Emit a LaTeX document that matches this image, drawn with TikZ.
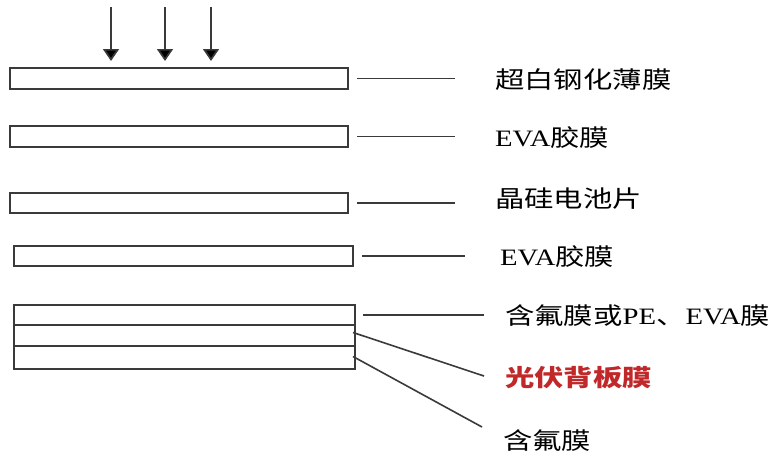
\documentclass[tikz,border=0pt]{standalone}
\usepackage{fontspec}
\setmainfont{Liberation Serif}[FakeStretch=1.22]
\newfontfamily\cjk{Noto Sans CJK SC}[FakeStretch=1.25]
\usetikzlibrary{arrows.meta,calc}
\definecolor{linegray}{HTML}{3A3A3A}
\definecolor{labred}{HTML}{C0282A}
\begin{document}
\begin{tikzpicture}[x=1pt,y=-1pt,
  layer/.style={draw=linegray,line width=1.5pt,fill=white,inner sep=0pt,outer sep=0pt,minimum width=#1},
  layer/.default=338pt,
  lab/.style={anchor=west,inner sep=0pt,font=\fontsize{23.5}{26}\selectfont},
  leader/.style={draw=linegray,line width=1.6pt},
  sun/.style={draw=linegray,line width=1.7pt,-{Triangle[width=16pt,length=12pt,fill=black]}}]
\useasboundingbox (0,0) rectangle (775,455);
% layers
\node[layer,minimum height=21pt] (r1) at (179,78.5) {};
\node[layer,minimum height=21pt] (r2) at (179,136.5) {};
\node[layer,minimum height=20pt] (r3) at (179,203) {};
\node[layer=339pt,minimum height=20pt] (r4) at (183.5,256) {};
\node[layer=341pt,minimum height=20pt] (s1) at (184.5,315) {};
\node[layer=341pt,minimum height=21pt] (s2) at (184.5,335.5) {};
\node[layer=341pt,minimum height=23pt] (s3) at (184.5,357.5) {};
% sunlight arrows
\coordinate (a1) at (111,7); \coordinate (b1) at (111,61);
\coordinate (a2) at (165,7); \coordinate (b2) at (165,61);
\coordinate (a3) at (211,7); \coordinate (b3) at (211,61);
\draw[sun] (a1) -- (b1);
\draw[sun] (a2) -- (b2);
\draw[sun] (a3) -- (b3);
% labels
\node[lab] (l1) at (495,80) {\cjk 超白钢化薄膜};
\node[lab] (l2) at (495,138) {EVA{\cjk 胶膜}};
\node[lab] (l3) at (495,199) {\cjk 晶硅电池片};
\node[lab] (l4) at (500,257) {EVA{\cjk 胶膜}};
\node[lab] (l5) at (505,316) {{\cjk 含氟膜或}PE{\cjk 、}EVA{\cjk 膜}};
\node[lab,text=labred] (l6) at (505,378) {\cjk\bfseries 光伏背板膜};
\node[lab] (l7) at (503,441) {\cjk 含氟膜};
% leaders
\coordinate (e1) at (455,78.5);
\coordinate (e2) at (455,136.5);
\coordinate (e3) at (455,203);
\coordinate (e4) at (465,256);
\coordinate (e5) at (484,315);
\coordinate (e6) at (484,376);
\coordinate (e7) at (482,427);
\draw[leader,shorten <=9pt] (r1.east) -- (e1);
\draw[leader,shorten <=9pt] (r2.east) -- (e2);
\draw[leader,shorten <=9pt] (r3.east) -- (e3);
\draw[leader,shorten <=9pt] (r4.east) -- (e4);
\draw[leader,shorten <=8pt] (s1.east) -- (e5);
\draw[leader] ($(s2.east)+(-2,-3)$) -- (e6);
\draw[leader] ($(s3.east)+(-2,-1)$) -- (e7);
\end{tikzpicture}
\end{document}
